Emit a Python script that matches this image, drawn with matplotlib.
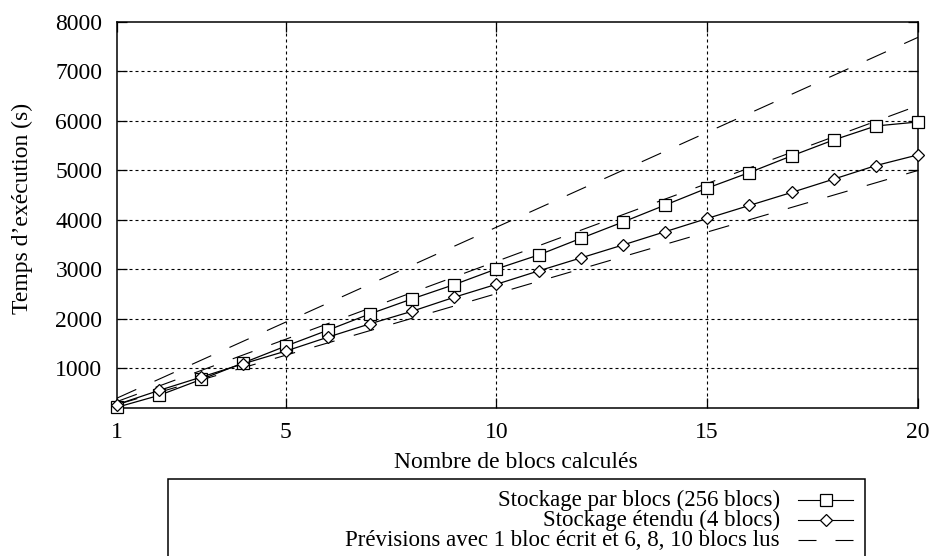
import matplotlib
matplotlib.use("Agg")
import matplotlib.pyplot as plt
from matplotlib.lines import Line2D
from matplotlib.patches import Rectangle

plt.rcParams['font.family'] = ['Liberation Serif', 'DejaVu Serif']

# Nombre de blocs calculés
blocs = list(range(1, 21))

# Temps mesurés (s)
stockage_blocs = [215, 456, 778, 1114, 1450, 1772, 2102, 2405, 2694, 3010,
                  3292, 3627, 3958, 4300, 4643, 4958, 5294, 5617, 5899, 5980]
stockage_etendu = [270, 556, 825, 1095, 1349, 1631, 1901, 2155, 2438, 2700,
                   2970, 3232, 3494, 3762, 4030, 4293, 4555, 4825, 5099, 5315]

# Prévisions linéaires (extrémités à 1 et 20 blocs) pour 6, 8 et 10 blocs lus
prev_x = [1, 20]
prev_6 = [270, 5000]
prev_8 = [330, 6310]
prev_10 = [400, 7690]

x_ticks = [1, 5, 10, 15, 20]
y_ticks = [1000, 2000, 3000, 4000, 5000, 6000, 7000, 8000]

FS = 17
FS_LEG = 16.5
W, H = 933, 556
fig = plt.figure(figsize=(W / 100, H / 100), dpi=100)
left, right, top, bottom = 117, 918, 22, 408
ax = fig.add_axes([left / W, 1 - bottom / H, (right - left) / W, (bottom - top) / H])

ax.set_xlim(1, 20)
ax.set_ylim(200, 8000)
ax.set_xticks(x_ticks)
ax.set_yticks(y_ticks)

# grille pointillée
for xv in x_ticks[1:-1]:
    ax.axvline(xv, color='black', lw=0.8, dashes=(2.7, 2.7), zorder=1)
for yv in y_ticks[:-1]:
    ax.axhline(yv, color='black', lw=0.8, dashes=(2.7, 2.7), zorder=1)

ax.plot(blocs, stockage_blocs, color='black', lw=0.9, marker='s', markersize=8,
        markerfacecolor='white', markeredgecolor='black', markeredgewidth=0.9,
        zorder=3, clip_on=False)
ax.plot(blocs, stockage_etendu, color='black', lw=0.9, marker='D', markersize=6.6,
        markerfacecolor='white', markeredgecolor='black', markeredgewidth=0.9,
        zorder=3, clip_on=False)
for serie in (prev_6, prev_8, prev_10):
    ax.plot(prev_x, serie, color='black', lw=0.8, dashes=(19, 18), zorder=2)

ax.tick_params(direction='in', length=7, width=0.9, top=True, right=True,
               labelsize=FS)
ax.tick_params(axis='y', pad=10.5)
ax.tick_params(axis='x', pad=10)
for s in ax.spines.values():
    s.set_linewidth(1.1)

fig.text(516 / W, 1 - 462 / H, 'Nombre de blocs calculés', ha='center', va='center',
         fontsize=FS)
fig.text(22 / W, 1 - 208 / H, 'Temps d\u2019exécution (s)', ha='center', va='center',
         rotation=90, fontsize=FS)

# légende
fig.patches.append(Rectangle((168 / W, 1 - 600 / H), (865 - 168) / W, (600 - 479) / H,
                             transform=fig.transFigure, fill=False, edgecolor='black',
                             lw=1.1))
entries = [
    ('Stockage par blocs (256 blocs)', 500, dict(marker='s', markersize=8, linestyle='-')),
    ('Stockage étendu (4 blocs)', 520, dict(marker='D', markersize=6.6, linestyle='-')),
    ('Prévisions avec 1 bloc écrit et 6, 8, 10 blocs lus', 540,
     dict(linestyle=(0, (16.2, 17.1)))),
]
for label, yp, style in entries:
    fy = 1 - yp / H
    fig.text(780 / W, fy, label, ha='right', va='center', fontsize=FS_LEG)
    fig.lines.append(Line2D([798 / W, 853 / W], [fy, fy], transform=fig.transFigure,
                            color='black', lw=0.8, linestyle=style['linestyle']))
    if 'marker' in style:
        fig.lines.append(Line2D([825.5 / W], [fy], transform=fig.transFigure,
                                marker=style['marker'], markersize=style['markersize'],
                                markerfacecolor='white', markeredgecolor='black',
                                markeredgewidth=0.9, linestyle='none'))

fig.savefig('out.png', dpi=100)
